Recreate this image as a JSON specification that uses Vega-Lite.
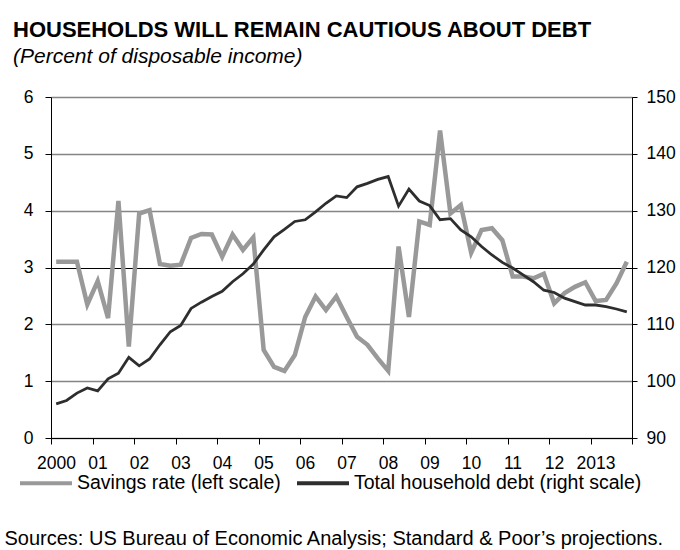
{
  "$schema": "https://vega.github.io/schema/vega-lite/v6.json",
  "width": 581,
  "height": 341,
  "autosize": {"type": "none"},
  "padding": {"left": 51, "top": 97, "right": 48, "bottom": 112},
  "background": "white",
  "config": {
    "font": "Liberation Sans",
    "view": {"stroke": null},
    "axis": {"labelFont": "Liberation Sans", "labelColor": "black", "domainColor": "black", "tickColor": "black", "titleFont": "Liberation Sans"}
  },
  "title": {
    "text": "HOUSEHOLDS WILL REMAIN CAUTIOUS ABOUT DEBT",
    "subtitle": "(Percent of disposable income)",
    "anchor": "start",
    "frame": "group",
    "dx": -38,
    "offset": 20,
    "font": "Liberation Sans",
    "fontSize": 22,
    "fontWeight": "bold",
    "color": "black",
    "subtitleFont": "Liberation Sans",
    "subtitleFontSize": 21,
    "subtitleFontStyle": "italic",
    "subtitleColor": "black",
    "subtitlePadding": 4
  },
  "data": {
    "values": [
      {"t": 2000.125, "savings": 3.10, "debt": 96.0},
      {"t": 2000.375, "savings": 3.10, "debt": 96.6},
      {"t": 2000.625, "savings": 3.10, "debt": 97.9},
      {"t": 2000.875, "savings": 2.35, "debt": 98.8},
      {"t": 2001.125, "savings": 2.76, "debt": 98.3},
      {"t": 2001.375, "savings": 2.11, "debt": 100.4},
      {"t": 2001.625, "savings": 4.17, "debt": 101.4},
      {"t": 2001.875, "savings": 1.61, "debt": 104.2},
      {"t": 2002.125, "savings": 3.95, "debt": 102.7},
      {"t": 2002.375, "savings": 4.01, "debt": 103.9},
      {"t": 2002.625, "savings": 3.06, "debt": 106.4},
      {"t": 2002.875, "savings": 3.03, "debt": 108.7},
      {"t": 2003.125, "savings": 3.05, "debt": 109.8},
      {"t": 2003.375, "savings": 3.52, "debt": 112.8},
      {"t": 2003.625, "savings": 3.59, "debt": 113.9},
      {"t": 2003.875, "savings": 3.58, "debt": 114.9},
      {"t": 2004.125, "savings": 3.19, "debt": 115.8},
      {"t": 2004.375, "savings": 3.58, "debt": 117.5},
      {"t": 2004.625, "savings": 3.31, "debt": 118.9},
      {"t": 2004.875, "savings": 3.53, "debt": 120.6},
      {"t": 2005.125, "savings": 1.55, "debt": 123.1},
      {"t": 2005.375, "savings": 1.25, "debt": 125.4},
      {"t": 2005.625, "savings": 1.18, "debt": 126.7},
      {"t": 2005.875, "savings": 1.46, "debt": 128.1},
      {"t": 2006.125, "savings": 2.13, "debt": 128.4},
      {"t": 2006.375, "savings": 2.49, "debt": 129.8},
      {"t": 2006.625, "savings": 2.25, "debt": 131.3},
      {"t": 2006.875, "savings": 2.49, "debt": 132.6},
      {"t": 2007.125, "savings": 2.13, "debt": 132.3},
      {"t": 2007.375, "savings": 1.78, "debt": 134.2},
      {"t": 2007.625, "savings": 1.64, "debt": 134.8},
      {"t": 2007.875, "savings": 1.40, "debt": 135.5},
      {"t": 2008.125, "savings": 1.18, "debt": 136.0},
      {"t": 2008.375, "savings": 3.37, "debt": 130.8},
      {"t": 2008.625, "savings": 2.13, "debt": 133.8},
      {"t": 2008.875, "savings": 3.81, "debt": 131.7},
      {"t": 2009.125, "savings": 3.75, "debt": 130.9},
      {"t": 2009.375, "savings": 5.41, "debt": 128.4},
      {"t": 2009.625, "savings": 3.95, "debt": 128.6},
      {"t": 2009.875, "savings": 4.10, "debt": 126.6},
      {"t": 2010.125, "savings": 3.26, "debt": 125.4},
      {"t": 2010.375, "savings": 3.66, "debt": 123.7},
      {"t": 2010.625, "savings": 3.69, "debt": 122.2},
      {"t": 2010.875, "savings": 3.48, "debt": 120.9},
      {"t": 2011.125, "savings": 2.84, "debt": 119.9},
      {"t": 2011.375, "savings": 2.84, "debt": 118.7},
      {"t": 2011.625, "savings": 2.81, "debt": 117.5},
      {"t": 2011.875, "savings": 2.89, "debt": 116.0},
      {"t": 2012.125, "savings": 2.37, "debt": 115.6},
      {"t": 2012.375, "savings": 2.55, "debt": 114.6},
      {"t": 2012.625, "savings": 2.66, "debt": 114.0},
      {"t": 2012.875, "savings": 2.74, "debt": 113.4},
      {"t": 2013.125, "savings": 2.41, "debt": 113.4},
      {"t": 2013.375, "savings": 2.43, "debt": 113.1},
      {"t": 2013.625, "savings": 2.72, "debt": 112.7},
      {"t": 2013.875, "savings": 3.10, "debt": 112.2}
    ]
  },
  "encoding": {
    "x": {
      "field": "t",
      "type": "quantitative",
      "scale": {"domain": [2000, 2014], "nice": false, "zero": false},
      "axis": {
        "values": [2000, 2001, 2002, 2003, 2004, 2005, 2006, 2007, 2008, 2009, 2010, 2011, 2012, 2013, 2014],
        "format": "d",
        "labelExpr": "datum.value == 2000 || datum.value == 2013 ? datum.label : datum.value == 2014 ? '' : substring(datum.label, 2, 4)",
        "labelOffset": 5,
        "labelFontSize": 17.5,
        "labelPadding": 10,
        "labelFlush": false,
        "labelOverlap": false,
        "tickSize": 6,
        "grid": false,
        "title": "Sources: US Bureau of Economic Analysis; Standard & Poor\u2019s projections.",
        "titleFontSize": 20,
        "titleFontWeight": "normal",
        "titleColor": "black",
        "titleAnchor": "start",
        "titleAlign": "left",
        "titleBaseline": "alphabetic",
        "titleX": -47,
        "titleY": 106
      }
    }
  },
  "layer": [
    {
      "mark": {"type": "line", "strokeWidth": 4.5, "strokeJoin": "miter"},
      "encoding": {
        "y": {
          "field": "savings",
          "type": "quantitative",
          "scale": {"domain": [0, 6], "nice": false},
          "axis": {
            "values": [0, 1, 2, 3, 4, 5, 6],
            "title": null,
            "grid": true,
            "gridColor": {"condition": {"test": "datum.value == 3", "value": "black"}, "value": "#858585"},
            "gridWidth": {"condition": {"test": "datum.value == 3", "value": 1}, "value": 1.5},
            "tickSize": 6,
            "labelPadding": 12,
            "labelFontSize": 17.5
          }
        },
        "color": {
          "datum": "Savings rate (left scale)",
          "type": "nominal",
          "scale": {"domain": ["Savings rate (left scale)", "Total household debt (right scale)"], "range": ["#999999", "#2e2e2e"]},
          "legend": {
            "orient": "none",
            "legendX": -33,
            "legendY": 358,
            "direction": "horizontal",
            "title": null,
            "padding": 0,
            "symbolType": "stroke",
            "symbolSize": 2704,
            "symbolStrokeWidth": 4,
            "labelFont": "Liberation Sans",
            "labelFontSize": 19.5,
            "labelColor": "black",
            "labelOffset": 3,
            "columnPadding": 8,
            "labelLimit": 400
          }
        }
      }
    },
    {
      "mark": {"type": "line", "strokeWidth": 2.8},
      "encoding": {
        "y": {
          "field": "debt",
          "type": "quantitative",
          "scale": {"domain": [90, 150], "nice": false, "zero": false},
          "axis": {
            "orient": "right",
            "values": [90, 100, 110, 120, 130, 140, 150],
            "title": null,
            "grid": false,
            "tickSize": 5,
            "labelPadding": 9,
            "labelFontSize": 17.5
          }
        },
        "color": {"datum": "Total household debt (right scale)", "type": "nominal"}
      }
    }
  ],
  "resolve": {"scale": {"y": "independent"}}
}
